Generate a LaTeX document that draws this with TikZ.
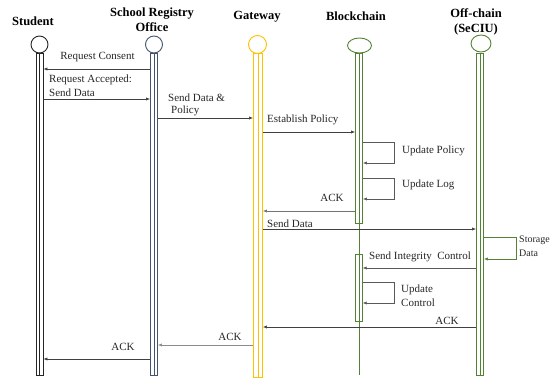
\documentclass[tikz,border=0pt]{standalone}
\usepackage{fontspec}
\setmainfont{Liberation Serif}
\usetikzlibrary{arrows.meta,shapes.geometric}

\definecolor{stucol}{HTML}{262626}
\definecolor{regcol}{HTML}{44546A}
\definecolor{gwcol}{HTML}{FFC000}
\definecolor{bccol}{HTML}{548235}
\definecolor{msgcol}{HTML}{404040}
\definecolor{loopcol}{HTML}{595959}

\begin{document}
\begin{tikzpicture}[x=1pt,y=-1pt,
  lbl/.style={font=\fontsize{11}{13}\selectfont, inner sep=0pt, text=black!85},
  hdr/.style={font=\fontsize{12.5}{14.5}\selectfont\bfseries, align=center, inner sep=0pt},
  msg/.style={draw=msgcol, line width=0.6pt, -{Latex[length=4pt,width=3.2pt]}},
  selfmsg/.style={draw=loopcol, line width=0.6pt, -{Latex[length=4pt,width=3.2pt]}},
  bar/.style={draw=#1, rectangle, minimum width=7pt, inner sep=0pt, line width=0.8pt, fill=white},
  head/.style={draw=#1, circle, minimum size=17pt, inner sep=0pt, line width=0.9pt},
  ehead/.style={draw=#1, ellipse, minimum width=22pt, minimum height=16pt, inner sep=0pt, line width=0.9pt},
  life/.style={draw=#1, line width=0.6pt}
]
\useasboundingbox (0,0) rectangle (554,380);

% ---- participant titles ----
\node[hdr] (tStu) at (33,21) {Student};
\node[hdr] (tReg) at (152,19.5) {School Registry\\Office};
\node[hdr] (tGw)  at (257,17) {Gateway};
\node[hdr] (tBc)  at (356,16) {Blockchain};
\node[hdr] (tOc)  at (476,22) {Off-chain\\(SeCIU)};

% ---- Student ----
\node[head=stucol] (stuHead) at (39.5,44.5) {};
\node[bar=stucol, minimum height=322pt] (stuBar) at (39.5,214) {};
\draw[life=stucol] (stuBar.north) -- (stuBar.south);

% ---- School Registry Office ----
\node[head=regcol] (regHead) at (154,44.5) {};
\node[bar=regcol, minimum height=322pt] (regBar) at (154,214) {};
\draw[life=regcol] (regBar.north) -- (regBar.south);

% ---- Gateway ----
\node[head=gwcol, minimum size=18pt] (gwHead) at (257.5,44.5) {};
\node[bar=gwcol, minimum width=9pt, minimum height=324pt] (gwBar) at (258,215) {};
\draw[life=gwcol] (gwBar.north) -- (gwBar.south);

% ---- Blockchain ----
\node[ehead=bccol, minimum width=24pt, minimum height=15pt] (bcHead) at (359.5,45.5) {};
\coordinate (bcEnd) at (359,375);
\node[bar=bccol, minimum height=170pt] (bcBarA) at (359,138) {};
\node[bar=bccol, minimum width=6.5pt, minimum height=67pt] (bcBarB) at (359,287.5) {};
\draw[life=bccol] (bcBarA.north) -- (bcEnd);

% ---- Off-chain (SeCIU) ----
\node[ehead=bccol, minimum width=20pt, minimum height=17pt] (ocHead) at (481,43.5) {};
\node[bar=bccol, minimum height=322pt] (ocBar) at (480,214) {};
\draw[life=bccol] (ocBar.north) -- (ocBar.south);

% ---- messages ----
\draw[msg] (regBar.west |- 0,69) -- (stuBar.east |- 0,69);
\node[lbl] (lReqCons) at (97.5,57) {Request Consent};

\draw[msg] (stuBar.east |- 0,99) -- (regBar.west |- 0,99);
\node[lbl, anchor=west] (lReqAcc1) at (49,80) {Request Accepted:};
\node[lbl, anchor=west] (lReqAcc2) at (49,93) {Send Data};

\draw[msg] (regBar.east |- 0,118) -- (gwBar.west |- 0,118);
\node[lbl, anchor=west] (lSdp1) at (168,98) {Send Data \&};
\node[lbl, anchor=west] (lSdp2) at (171,111) {Policy};

\draw[msg] (gwBar.east |- 0,132) -- (bcBarA.west |- 0,132);
\node[lbl, anchor=west] (lEst) at (267,120) {Establish Policy};

\draw[selfmsg] (bcBarA.east |- 0,142) -- (394,142) |- (bcBarA.east |- 0,163);
\node[lbl, anchor=west] (lUpPol) at (402,151) {Update Policy};

\draw[selfmsg] (bcBarA.east |- 0,178) -- (394,178) |- (bcBarA.east |- 0,199);
\node[lbl, anchor=west] (lUpLog) at (402,185) {Update Log};

\draw[msg, draw=black!55] (bcBarA.west |- 0,211) -- (gwBar.east |- 0,211);
\node[lbl] (lAck1) at (332,198) {ACK};

\draw[msg] (gwBar.east |- 0,229) -- (ocBar.west |- 0,229);
\node[lbl, anchor=west] (lSend) at (267,224) {Send Data};

\draw[selfmsg, draw=bccol] (ocBar.east |- 0,237) -- (516,237) |- (ocBar.east |- 0,259);
\node[lbl, anchor=west, font=\fontsize{10}{12}\selectfont] (lStor1) at (519,240) {Storage};
\node[lbl, anchor=west, font=\fontsize{10}{12}\selectfont] (lStor2) at (519,253.5) {Data};

\draw[msg, draw=black!65] (ocBar.west |- 0,268) -- (bcBarB.east |- 0,268);
\node[lbl, anchor=west] (lInteg) at (369,257) {Send Integrity\ \ Control};

\draw[selfmsg] (bcBarB.east |- 0,282) -- (394,282) |- (bcBarB.east |- 0,303);
\node[lbl, anchor=west] (lUpC1) at (401,289.5) {Update};
\node[lbl, anchor=west] (lUpC2) at (401,302.5) {Control};

\draw[msg] (ocBar.west |- 0,327) -- (gwBar.east |- 0,327);
\node[lbl] (lAck2) at (447,321) {ACK};

\draw[msg, draw=black!45] (gwBar.west |- 0,345) -- (regBar.east |- 0,345);
\node[lbl] (lAck3) at (230,337) {ACK};

\draw[msg] (regBar.west |- 0,359) -- (stuBar.east |- 0,359);
\node[lbl] (lAck4) at (123,347) {ACK};
\end{tikzpicture}
\end{document}
